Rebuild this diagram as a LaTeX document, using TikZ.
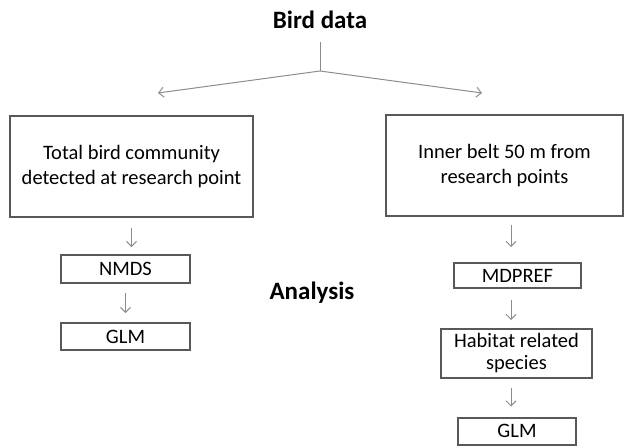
\documentclass[tikz,border=0pt]{standalone}
\usepackage{fontspec}
\setmainfont{Carlito}
\usepackage{xcolor}
\usetikzlibrary{calc,arrows.meta}
\definecolor{frame}{HTML}{595959}
\definecolor{link}{HTML}{8C8C8C}
\tikzset{
  box/.style={draw=frame, line width=2pt, inner sep=0pt, align=center,
    font=\fontsize{20.5}{22}\selectfont},
  title/.style={font=\fontsize{25}{28}\selectfont\bfseries},
  flow/.style={draw=link, line width=1pt, -{Straight Barb[length=5pt,width=10pt]}},
  branch/.style={draw=link, line width=1pt},
}

\begin{document}
\begin{tikzpicture}[x=1pt,y=-1pt]
  \useasboundingbox (0,0) rectangle (626,447);

  \node[title] (bird) at (320,20) {Bird data};
  \coordinate (stem) at (320,42);
  \coordinate (split) at (320,71);
  \coordinate (tipL) at (158,93);
  \coordinate (tipR) at (482,93);

  \node[box, minimum width=243pt, minimum height=101pt,
    font=\fontsize{20.5}{25}\selectfont] (total) at (131.5,166.5)
    {Total bird community\\detected at research point};
  \node[box, minimum width=129pt, minimum height=28pt] (nmds) at (125.5,269) {NMDS};
  \node[box, minimum width=129pt, minimum height=27pt] (glmL) at (125.5,336.5) {GLM};

  \node[title] (analysis) at (312,293) {Analysis};

  \node[box, minimum width=237pt, minimum height=101pt,
    font=\fontsize{20.5}{25}\selectfont] (inner) at (504.5,165.5)
    {Inner belt 50 m from\\research points};
  \node[box, minimum width=127pt, minimum height=25pt] (mdpref) at (517.5,275.5) {MDPREF};
  \node[box, minimum width=151pt, minimum height=49pt] (habitat) at (516.5,353.5)
    {Habitat related\\species};
  \node[box, minimum width=118pt, minimum height=27pt] (glmR) at (517,431) {GLM};

  \draw[branch] (stem) -- (split);
  \draw[flow] (split) -- (tipL);
  \draw[flow] (split) -- (tipR);

  \draw[flow, shorten <=10pt, shorten >=7pt] (total.south) -- (total.south |- nmds.north);
  \draw[flow, shorten <=9pt, shorten >=9pt] (nmds.south) -- (nmds.south |- glmL.north);

  \draw[flow, shorten <=8pt, shorten >=15pt] (inner.south -| 511,0) -- (mdpref.north -| 511,0);
  \draw[flow, shorten <=11pt, shorten >=8pt] (mdpref.south -| 511,0) -- (habitat.north -| 511,0);
  \draw[flow, shorten <=9pt, shorten >=10pt] (habitat.south -| 511,0) -- (glmR.north -| 511,0);
\end{tikzpicture}
\end{document}
